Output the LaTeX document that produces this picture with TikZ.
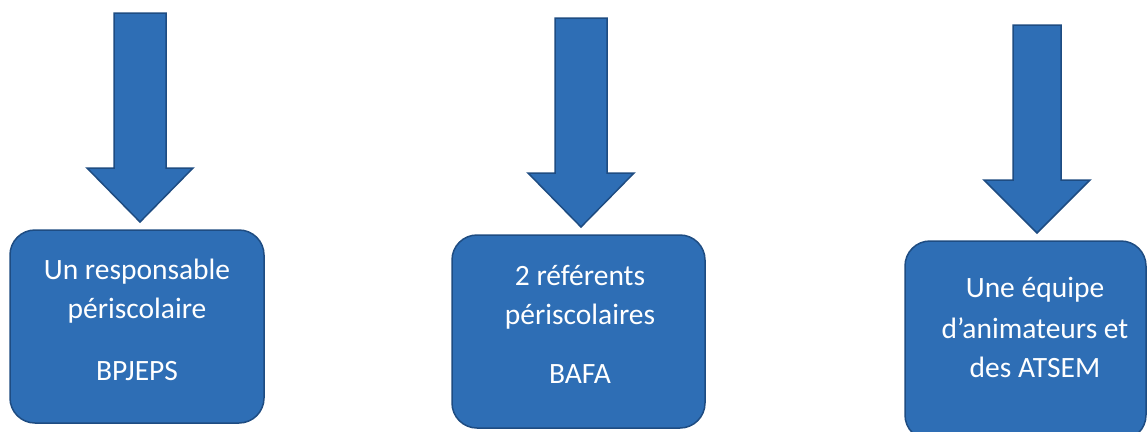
\documentclass[tikz,border=0pt]{standalone}
\usepackage{fontspec}
\setmainfont{Carlito}
\definecolor{bfill}{RGB}{46,110,181}
\definecolor{bline}{RGB}{30,76,130}
\tikzset{
  blk/.style={fill=bfill,draw=bline,line width=1.5pt,line join=miter},
  boxstyle/.style={blk,rounded corners=25pt,inner sep=0pt},
  lbl/.style={text=white,font=\fontsize{29.5}{34}\selectfont,anchor=base,inner sep=0pt}
}
% cx, top, headY, tipY, shaftHalf, headHalf
\newcommand\blockarrowx[6]{%
  \draw[blk] (#1-#5,#2) -- (#1+#5,#2) -- (#1+#5,#3) -- (#1+#6,#3) -- (#1,#4) -- (#1-#6,#3) -- (#1-#5,#3) -- cycle;}
\begin{document}
\begin{tikzpicture}[x=1pt,y=-1pt]
\clip (0,0) rectangle (1147,431);
\fill[white] (0,0) rectangle (1147,431);
% arrows
\blockarrowx{140}{13}{168}{222}{26}{53}
\blockarrowx{581}{18}{173}{227}{26}{53}
\blockarrowx{1037}{25}{180}{233}{24}{53}
% boxes
\node[boxstyle,minimum width=254pt,minimum height=193pt] (b1) at (137,326.5) {};
\node[boxstyle,minimum width=253pt,minimum height=193pt] (b2) at (578.5,331.5) {};
\node[boxstyle,minimum width=241pt,minimum height=199pt] (b3) at (1025.5,340.5) {};
% texts
\node[lbl] (t1a) at (137,279) {Un responsable};
\node[lbl] (t1b) at (137,318) {périscolaire};
\node[lbl] (t1c) at (137,380) {BPJEPS};
\node[lbl] (t2a) at (580,285) {2 référents};
\node[lbl] (t2b) at (580,324) {périscolaires};
\node[lbl] (t2c) at (580,383) {BAFA};
\node[lbl] (t3a) at (1035,297) {Une équipe};
\node[lbl] (t3b) at (1035,338) {d’animateurs et};
\node[lbl] (t3c) at (1035,377) {des ATSEM};
\end{tikzpicture}
\end{document}
